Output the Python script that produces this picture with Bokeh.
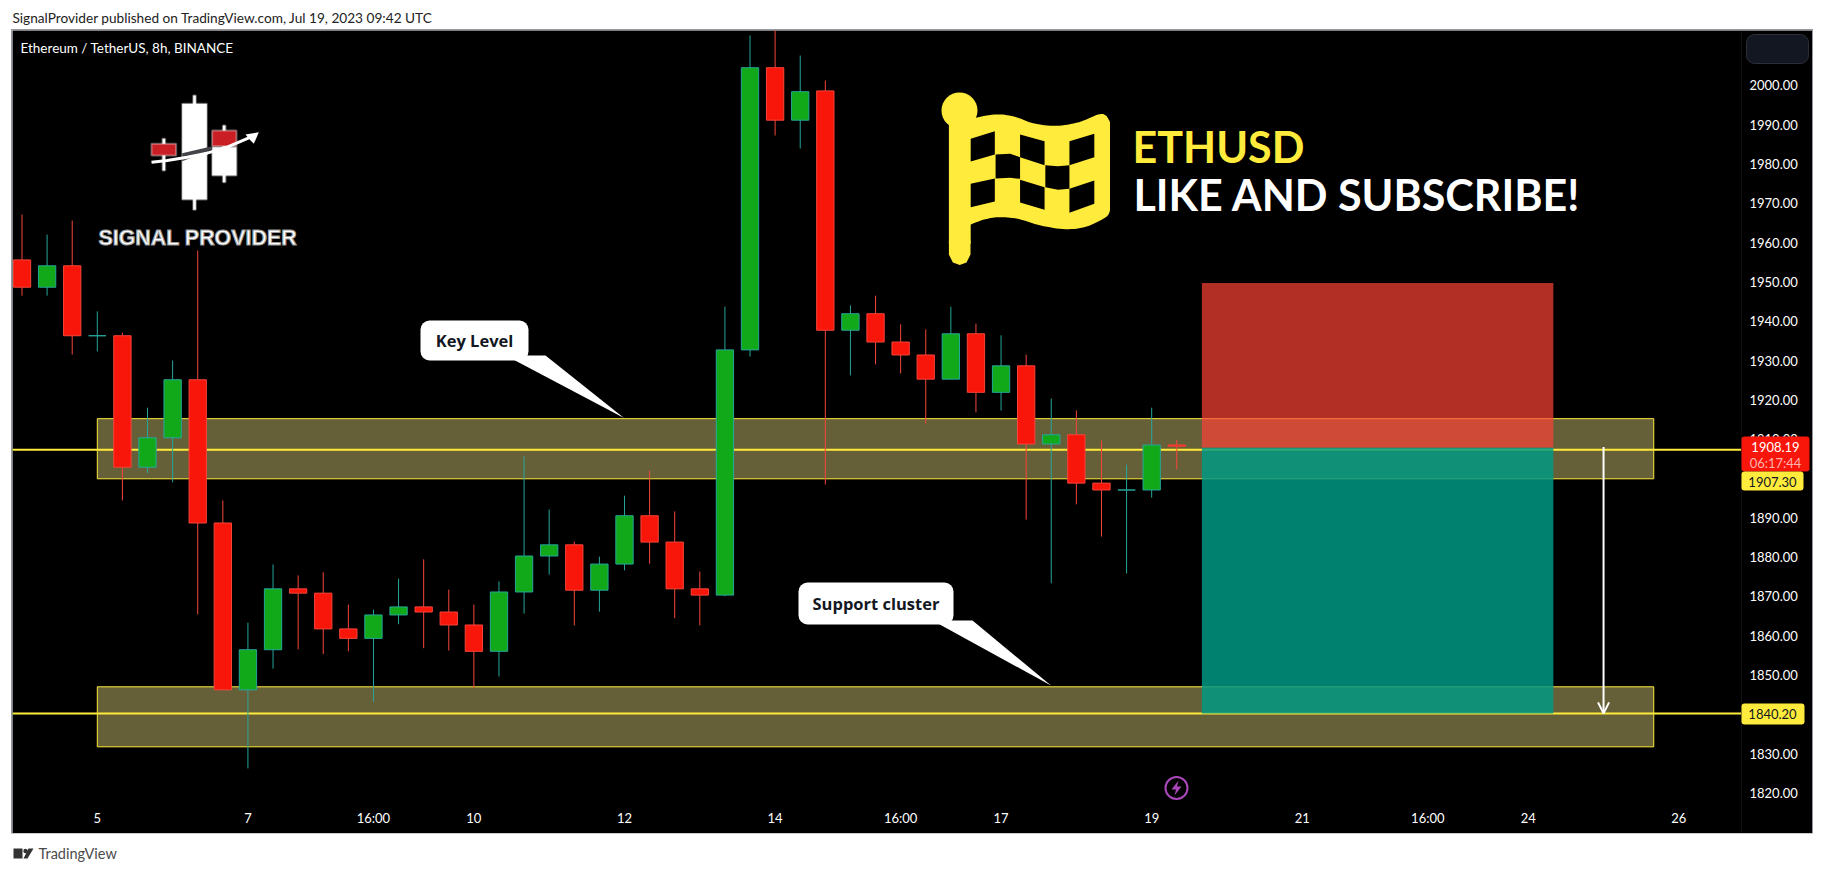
from bokeh.plotting import figure
from bokeh.layouts import column
from bokeh.models import (Range1d, LinearAxis, FixedTicker, Arrow, OpenHead,
                          ColumnDataSource, NumeralTickFormatter)
from bokeh.core.properties import value
from bokeh.embed import file_html
from bokeh.resources import INLINE

# ---------- chart data ----------
opens = [1955.6,1948.65,1954.1,1936.3,1936.3,1902.85,1910.33,1925.1,1888.65,1846.2,1856.4,1871.9,1870.8,1861.7,1859.3,1865.25,
         1867.3,1866,1862.7,1856,1871.1,1880.25,1883.1,1871.55,1878.2,1890.5,1883.8,1871.9,1870.3,1932.7,2004.5,1991.15,
         1998.6,1937.7,1941.9,1934.7,1931.4,1925.25,1936.8,1921.9,1928.65,1908.75,1911.1,1898.8,1897.05,1897.05,1908.5]
highs = [1967.15,1962.05,1965.6,1942.5,1937.1,1918,1930,1958,1894.4,1863.3,1878.1,1875.3,1876.1,1867.9,1866.6,1874.5,
         1879.4,1871.7,1867.9,1873.8,1905.6,1892.1,1883.9,1880.1,1895.6,1902,1891.6,1876.3,1943.7,2012.7,2014.5,2007.6,
         2001.25,1944,1946.5,1939.2,1937.9,1943.7,1939.4,1936.4,1931.5,1920.3,1917.3,1909.6,1903.5,1918,1909.8]
lows = [1946.5,1946.5,1931.5,1932.3,1894.4,1901.3,1899,1865.4,1846.2,1826.2,1851.6,1856.5,1855.3,1856,1843.1,1862.9,
        1856.8,1856.2,1846.7,1849.6,1865.6,1875.5,1862.6,1866.1,1876.6,1878.3,1864.4,1862.6,1870,1931,1987.25,1983.95,
        1898.45,1926.2,1929,1926.7,1914,1925.25,1916.8,1917.3,1889.5,1873.3,1893.4,1885.2,1875.8,1895.1,1902.3]
closes = [1948.65,1954.1,1936.3,1936.3,1902.85,1910.33,1925.1,1888.65,1846.2,1856.4,1871.9,1870.8,1861.7,1859.3,1865.25,1867.3,
          1866,1862.7,1856,1871.1,1880.25,1883.1,1871.55,1878.2,1890.5,1883.8,1871.9,1870.3,1932.7,2004.5,1991.15,1998.4,
          1937.7,1941.9,1934.7,1931.4,1925.25,1936.8,1921.9,1928.65,1908.75,1911.1,1898.8,1897.05,1897.05,1908.5,1908.19]
price_ticks = [1820,1830,1840,1850,1860,1870,1880,1890,1900,1910,1920,1930,1940,1950,1960,1970,1980,1990,2000]
time_tick_pos = [3,9,14,18,24,30,35,39,45,51,56,60,66]
time_tick_labels = ["5","7","16:00","10","12","14","16:00","17","19","21","16:00","24","26"]
zones = [(1899.9,1915.2),(1831.7,1846.97)]
zone_span = (3,65)
levels = [1907.30,1840.20]
tool_span = (47,61)
tool_stop, tool_entry, tool_target = 1949.7,1907.8,1840.2
last_price, countdown = "1908.19","06:17:44"

FONT = "Lato"
# page-pixel geometry of the pane: the frame fills the whole black area,
# the axes sit inside it at fixed locations so labels can be drawn over them
PL,PR,PT,PB = 12,1741,30,803
FIG_R,FIG_B = 1812,833
X0,DX = 21.5,25.104
Y0,DY = 84.9,3.93
def X(px): return (px-X0)/DX
def Y(py): return 2000-(py-Y0)/DY

YEL="#ffeb3b"
p = figure(width=FIG_R-PL,height=FIG_B-PT,output_backend="svg",toolbar_location=None,
           x_range=Range1d(X(PL),X(FIG_R)),y_range=Range1d(Y(FIG_B),Y(PT)),
           x_axis_location=None,y_axis_location=None,
           min_border_left=0,min_border_top=0,min_border_right=0,min_border_bottom=0,
           background_fill_color="black",border_fill_color="black",outline_line_color=None,
           margin=(0,0,0,12),styles={"box-shadow":"0 0 0 1px #9598a1"})
p.grid.visible=False

xa=LinearAxis(ticker=FixedTicker(ticks=time_tick_pos),major_label_overrides=dict(zip(time_tick_pos,time_tick_labels)),
              major_tick_line_color=None,minor_tick_line_color=None,axis_line_color=None,fixed_location=Y(PB),
              major_label_text_color="white",major_label_text_font=FONT,major_label_text_font_size="13px",major_label_standoff=0)
ya=LinearAxis(ticker=FixedTicker(ticks=price_ticks),formatter=NumeralTickFormatter(format="0.00"),
              major_tick_line_color=None,minor_tick_line_color=None,axis_line_color="#101010",fixed_location=X(PR),
              major_label_text_color="white",major_label_text_font=FONT,major_label_text_font_size="13px",major_label_standoff=2)
p.add_layout(xa,"below"); p.add_layout(ya,"right")

# zones / levels
for lo,hi in zones:
    p.quad(left=zone_span[0],right=zone_span[1],bottom=lo,top=hi,fill_color="#666039",line_color=YEL,line_width=1)
for lv in levels:
    p.segment(x0=X(PL),x1=X(PR),y0=lv,y1=lv,line_color=YEL,line_width=2)
# risk/reward tool
p.quad(left=tool_span[0],right=tool_span[1],bottom=tool_entry,top=tool_stop,fill_color="#fd4336",fill_alpha=0.7,line_color=None)
p.quad(left=tool_span[0],right=tool_span[1],bottom=tool_target,top=tool_entry,fill_color="#009a86",fill_alpha=0.83,line_color=None)

# candles
idx=list(range(len(opens)))
up=[c>=o for o,c in zip(opens,closes)]
src=ColumnDataSource(dict(x=idx,o=opens,h=highs,l=lows,c=closes,
    top=[max(a,b) for a,b in zip(opens,closes)],bot=[min(a,b) for a,b in zip(opens,closes)],
    fill=["#11a81a" if u else "#f81509" for u in up],
    edge=["#26a69a" if u else "#f7453a" for u in up]))
p.segment(x0="x",x1="x",y0="l",y1="h",line_color="edge",line_width=1,source=src)
p.vbar(x="x",width=0.69,top="top",bottom="bot",fill_color="fill",line_color="edge",line_width=1,source=src)

# arrow
p.add_layout(Arrow(end=OpenHead(line_color="white",line_width=2,size=11),x_start=63,y_start=1908,x_end=63,y_end=1840.2,
                   line_color="white",line_width=2))

# callouts
def callout(box,tail,txt):
    l,r,t,b=box
    p.quad(left=X(l),right=X(r),top=Y(t),bottom=Y(b),fill_color="white",line_color=None,border_radius=9)
    p.patch([X(a) for a,_ in tail],[Y(c) for _,c in tail],fill_color="white",line_color=None)
    p.text([X((l+r)/2)],[Y((t+b)/2)],text=[txt],text_color="#131722",text_font=value("Open Sans"),text_font_style="bold",
           text_font_size="16.5px",text_align="center",text_baseline="middle")
callout((420,528,320,360),[(505,355),(545,355),(623.5,417.6)],"Key Level")
callout((798,953,582,624),[(932,620),(972,620),(1050.5,685)],"Support cluster")

# flag
ZX,ZY=2.613,3.0
def zx(v): return 780+v/ZX
def zy(v): return 70+v/ZY
def smooth(pts,n=8):
    out=[]
    P=[pts[0]]+list(pts)+[pts[-1]]
    for i in range(1,len(P)-2):
        for k in range(n):
            t=k/n
            out.append(tuple(0.5*(2*P[i][d]+(P[i+1][d]-P[i-1][d])*t+(2*P[i-1][d]-5*P[i][d]+4*P[i+1][d]-P[i+2][d])*t*t
                       +(3*P[i][d]-P[i-1][d]-3*P[i+1][d]+P[i+2][d])*t*t*t) for d in (0,1)))
    out.append(pts[-1])
    return out
top_edge=smooth([(497,145),(560,132),(610,138),(660,158),(720,166),(780,155),(830,132),(850,135),(861,155)])
bot_edge=smooth([(861,420),(850,440),(800,468),(745,476),(680,465),(620,445),(570,440),(530,448),(497,462)])
flag=[(440,150)]+top_edge+bot_edge+[(497,520),(440,520)]
p.patch([X(zx(a)) for a,_ in flag],[Y(zy(b)) for _,b in flag],fill_color=YEL,line_color=None)
p.patch([X(a) for a in (948.4,970,970,966,959.2,952.4,948.4)],[Y(b) for b in (240,240,254,262,264.5,262,254)],fill_color=YEL,line_color=None)
p.circle([X(959)],[Y(110)],radius=18,radius_units="screen",fill_color=YEL,line_color=None)
holes=[[(497,205),(560,182),(560,252),(497,273)],[(626,192),(690,212),(690,284),(626,260)],[(755,212),(820,190),(820,260),(755,284)],
       [(562,252),(600,250),(626,260),(626,325),(600,322),(562,324)],[(692,284),(725,287),(755,284),(755,355),(725,358),(692,350)],
       [(497,340),(560,324),(560,393),(497,410)],[(626,328),(690,350),(690,418),(626,396)],[(755,355),(820,330),(820,400),(755,427)]]
for h in holes:
    p.patch([X(zx(a)) for a,_ in h],[Y(zy(b)) for _,b in h],fill_color="black",line_color=None)

def big(x,y,t,c,s,st="bold"):
    p.text([X(x)],[Y(y)],text=[t],text_color=c,text_font=value(FONT),text_font_size=s,text_font_style=st,text_baseline="middle")
big(1132,146,"ETHUSD",YEL,"43px")
big(1133,194,"LIKE AND SUBSCRIBE!","white","43px")

big(20,47,"Ethereum / TetherUS, 8h, BINANCE","white","13.5px","normal")

# logo
def L(vx): return X(vx/3)
def M(vy): return Y(vy/3)
def rect(l,r,t,b,c):
    p.quad(left=L(l),right=L(r),top=M(t),bottom=M(b),fill_color=c,line_color="white",line_alpha=0.35,line_width=2)
rect(578,586,285,628,"white"); rect(545,619,310,597,"white")
rect(486,494,415,510,"white"); rect(667,675,375,545,"white")
rect(453,527,430,465,"#c81e24"); rect(635,708,390,437,"#c81e24"); rect(635,708,440,525,"white")
band=[(545,458),(635,437),(635,447),(545,482)]
p.patch([L(a) for a,_ in band],[M(b) for _,b in band],fill_color="#444448",line_color=None)
ln=[(453,485),(500,480),(560,470),(620,458),(680,440),(745,412)]
p.line([L(a) for a,_ in ln],[M(b) for _,b in ln],line_color="white",line_width=3)
hd=[(775,395),(760,430),(748,418),(735,402)]
p.patch([L(a) for a,_ in hd],[M(b) for _,b in hd],fill_color="white",line_color=None)
p.text([X(98)],[Y(237)],text=["SIGNAL PROVIDER"],text_color="white",text_font=value("Liberation Sans"),text_font_size="21.4px",
       text_font_style="bold",text_baseline="middle",text_outline_color="#9a9a9a")

# lightning icon
p.scatter([X(1176)],[Y(787.5)],size=22,marker="circle",fill_color="black",line_color="#ab47bc",line_width=2)
bolt=[(1178,780),(1171,789),(1175.5,789),(1174,795),(1181,786),(1176.5,786)]
p.patch([X(a) for a,_ in bolt],[Y(b) for _,b in bolt],fill_color="#ab47bc",line_color=None)

# right-side price labels, above the axis level
def box(l,r,t,b,c,edge=None,rad=3):
    p.quad(left=X(l),right=X(r),top=Y(t),bottom=Y(b),fill_color=c,line_color=edge,border_radius=rad,level="overlay")
def lab(x,y,t,c,s="13px"):
    p.text([X(x)],[Y(y)],text=[t],text_color=c,text_font=value(FONT),text_font_size=s,text_align="center",
           text_baseline="middle",level="overlay")
box(1746,1808,34,63,"#131722","#2a2e39",8)
box(1741,1809,436,471,"#f81509")
box(1741,1803,471,490,YEL)
box(1741,1804,703,724,YEL)
lab(1775,446,last_price,"white")
lab(1775,462,countdown,"#ffb3ae")
lab(1772,481,"%.2f"%levels[0],"#131722")
lab(1772,713,"%.2f"%levels[1],"#131722")

# header / footer strips
def strip(h,y0):
    f=figure(width=1824,height=h,output_backend="svg",toolbar_location=None,x_range=Range1d(0,1824),y_range=Range1d(y0+h,y0),
             x_axis_location=None,y_axis_location=None,min_border=0,outline_line_color=None,
             background_fill_color="white",border_fill_color="white")
    f.grid.visible=False
    return f
head=strip(30,0)
head.text([12],[17],text=["SignalProvider published on TradingView.com, Jul 19, 2023 09:42 UTC"],text_color="#222222",
          text_font=value(FONT),text_font_size="13.65px",text_baseline="middle")
foot=strip(39,833)
foot.quad(left=13,right=22,top=848,bottom=858,fill_color="#333333",line_color=None)
foot.circle([25],[850.5],radius=2.2,radius_units="screen",fill_color="#333333",line_color=None)
foot.patch([28,33,27,23],[848,848,858,858],fill_color="#333333",line_color=None)
foot.text([38],[853],text=["TradingView"],text_color="#4a4a4a",text_font=value(FONT),text_font_size="14.5px",text_baseline="middle")

page=column(head,p,foot,spacing=0)
open("out.html","w").write(file_html(page,INLINE))
